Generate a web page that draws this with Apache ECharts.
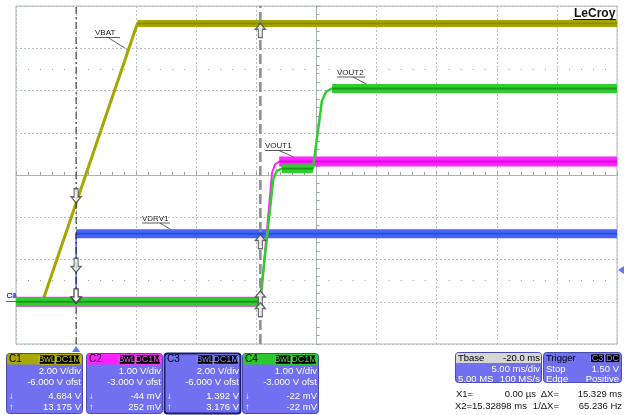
<!DOCTYPE html>
<html>
<head>
<meta charset="utf-8">
<title>LeCroy capture</title>
<script src="https://cdn.jsdelivr.net/npm/echarts@6/dist/echarts.min.js"></script>
<style>
html,body{margin:0;padding:0;background:#fff;}
#main{width:629px;height:415px;}
</style>
</head>
<body>
<div id="main"></div>
<script>
// channel setup (V/div and offset, like the scope readout)
var chNames = ['C1', 'C2', 'C3', 'C4'];
var chVdiv = [2, 1, 2, 1];
var chOfst = [-6, -3, -6, -3];

// traces: [time ms, volts]
var vbat  = [[-5, 0], [-2.8, 0], [5.1, 13.17], [45, 13.17]];                       // C1
var vout1 = [[-5, 0], [15.35, 0], [16.3, 3.05], [16.55, 3.25], [16.9, 3.32], [45, 3.32]]; // C2
var vdrv1 = [[-5, 0], [0, 0], [0, 3.22], [45, 3.22]];                              // C3
var vout2 = [[-5, 0], [15.3, 0], [16.4, 2.9], [16.7, 3.1], [17.1, 3.15], [19.7, 3.15],
             [20.45, 4.75], [20.8, 4.97], [21.3, 5.05], [45, 5.05]];               // C4

// cursors
var cursorX = [0, 15.329];
var cursorC1 = [4.684, 13.175];
var cursorC2 = [-0.044, 0.252];
var cursorC3 = [1.392, 3.176];
var cursorC4 = [-0.022, -0.022];
var trigTime = 0;
var trigLevel = 1.5;   // on C3
var dotRows = [2.5, -2.5];

// readout texts
var readTop = ['4.684 V', '-44 mV', '1.392 V', '-22 mV'];
var readBot = ['13.175 V', '252 mV', '3.176 V', '-22 mV'];

var FONT = '"Liberation Sans", Arial, sans-serif';
var FS = 9.5;
var BODY = '#7070f0';
var g = [];
function box(x, y, w, h, fill, stroke, lw, r) {
    g.push({type: 'rect', silent: true, shape: {x: x, y: y, width: w, height: h, r: r || 0},
        style: {fill: fill, stroke: stroke || null, lineWidth: lw || 0}});
}
function txt(x, y, s, color, size, align, weight) {
    g.push({type: 'text', silent: true, x: x, y: y,
        style: {text: s, fill: color, fontSize: size, fontFamily: FONT, fontWeight: weight || 'normal',
            align: align || 'left', verticalAlign: 'middle'}});
}
function seg(x1, y1, x2, y2, color, w) {
    g.push({type: 'line', silent: true, shape: {x1: x1, y1: y1, x2: x2, y2: y2},
        style: {stroke: color, lineWidth: w || 1}});
}

// trace labels with leader lines
function note(s, x, y, w, lx1, ly1, lx2, ly2) {
    txt(x, y, s, '#222', 8);
    seg(x, y + 4.5, x + w, y + 4.5, '#333', 0.8);
    seg(lx1, ly1, lx2, ly2, '#333', 0.8);
}
note('VBAT', 95, 33, 25, 108, 37.5, 128, 50);
note('VOUT1', 265, 146, 26, 279, 150.5, 305, 162);
note('VOUT2', 337, 72.5, 28, 353, 77, 375, 88.5);
note('VDRV1', 142, 218.5, 28, 160, 223, 180, 235);

// logo
txt(574, 13.5, 'LeCroy', '#111', 12, 'left', 'bold');
seg(573, 19.5, 616, 19.5, '#111', 1);

// ground marker on the left
['C1', 'C2', 'C3', 'C4'].forEach(function (c) { txt(6.5, 295.5, c, '#3a58ee', 8); });
seg(6, 301.5, 16, 301.5, '#3a58ee', 1);

// channel panels
var headCol = ['#a8a800', '#ff22ff', BODY, '#2ac82a'];
var tagCol = ['#c4c400', '#ff44ff', '#8a8aff', '#36e036'];
var panelX = [6, 86, 164, 242];
for (var i = 0; i < 4; i++) {
    var px = panelX[i];
    box(px + 0.5, 353.5, 76, 60, BODY, i === 2 ? '#1c1c70' : '#4a4ab0', i === 2 ? 2 : 1, 3);
    if (i !== 2) box(px + 1, 354, 75, 10.5, headCol[i], null, 0, [2, 2, 0, 0]);
    txt(px + 3, 359.5, chNames[i], '#000', 10);
    box(px + 33, 354.8, 16, 9.5, '#000', tagCol[i], 1, 1.5);
    txt(px + 41, 359.7, 'BwL', tagCol[i], 9, 'center');
    box(px + 49.5, 354.8, 25, 9.5, '#000', tagCol[i], 1, 1.5);
    txt(px + 62, 359.7, 'DC1M', tagCol[i], 9, 'center');
    txt(px + 75, 371, chVdiv[i].toFixed(2) + ' V/div', '#fff', FS, 'right');
    txt(px + 75, 382, chOfst[i].toFixed(3) + ' V ofst', '#fff', FS, 'right');
    txt(px + 75, 396.5, readTop[i], '#fff', FS, 'right');
    txt(px + 75, 407, readBot[i], '#fff', FS, 'right');
    txt(px + 3, 396.5, '\u2193', '#fff', FS);
    txt(px + 3, 407, '\u2191', '#fff', FS);
}

// timebase / trigger panels
box(455.5, 352.5, 86, 30, BODY, '#4a4ab0', 1, 3);
box(456, 353, 85, 10, '#d6d6d6', null, 0, [2, 2, 0, 0]);
txt(458, 358, 'Tbase', '#000', FS);
txt(540, 358, '-20.0 ms', '#000', FS, 'right');
txt(540, 369.5, '5.00 ms/div', '#fff', FS, 'right');
txt(458, 379.5, '5.00 MS', '#fff', FS);
txt(540, 379.5, '100 MS/s', '#fff', FS, 'right');

box(543.5, 352.5, 78, 30, BODY, '#4a4ab0', 1, 3);
txt(546, 358, 'Trigger', '#000', FS);
box(590.5, 353.8, 14, 9, '#000', '#8a8aff', 1, 1.5);
txt(597.5, 358.4, 'C3', '#8a8aff', 9, 'center');
box(605, 353.8, 15, 9, '#000', '#8a8aff', 1, 1.5);
txt(612.5, 358.4, 'DC', '#8a8aff', 9, 'center');
txt(546, 369.5, 'Stop', '#fff', FS);
txt(619, 369.5, '1.50 V', '#fff', FS, 'right');
txt(546, 379.5, 'Edge', '#fff', FS);
txt(619, 379.5, 'Positive', '#fff', FS, 'right');

txt(456, 394.5, 'X1=', '#111', FS);
txt(536, 394.5, '0.00 \u00b5s', '#111', FS, 'right');
txt(559, 394.5, '\u0394X=', '#111', FS, 'right');
txt(622, 394.5, '15.329 ms', '#111', FS, 'right');
txt(455, 406.5, 'X2=', '#111', FS);
txt(472, 406.5, '15.32898 ms', '#111', FS);
txt(559, 406.5, '1/\u0394X=', '#111', FS, 'right');
txt(622, 406.5, '65.236 Hz', '#111', FS, 'right');

// flat stretches of a trace, drawn as the thick noise band
function flats(data) {
    var out = [];
    for (var k = 0; k < data.length - 1; k++) {
        if (data[k][1] === data[k + 1][1] && data[k + 1][0] > data[k][0]) out.push([data[k], data[k + 1]]);
    }
    return out;
}
var series = [];
function trace(data, axis, bright, dark, bandW, lineW, z) {
    series.push({type: 'line', data: data, yAxisIndex: axis, symbol: 'none', silent: true, z: z,
        lineStyle: {color: bright, width: lineW}});
    flats(data).forEach(function (s) {
        series.push({type: 'line', data: s, yAxisIndex: axis, symbol: 'none', silent: true, z: z,
            lineStyle: {color: bright, width: bandW}});
        series.push({type: 'line', data: s, yAxisIndex: axis, symbol: 'none', silent: true, z: z,
            lineStyle: {color: dark, width: 2}});
    });
}
trace(vbat, 1, '#a6a600', '#8c8c00', 7, 3, 2);
trace(vdrv1, 3, '#4666f4', '#2c4ce4', 9, 1.5, 3);
trace(vout1, 2, '#ff26ff', '#e600e6', 10, 2, 4);
trace(vout2, 4, '#30cc30', '#169c16', 9, 2.5, 5);

// dotted half rows
dotRows.forEach(function (r) {
    series.push({type: 'line', data: [[-5, r], [45, r]], yAxisIndex: 0, symbol: 'none', silent: true, z: 1,
        lineStyle: {color: '#8f979b', width: 1, type: [1, 11.02]}});
});

// cursors
series.push({type: 'line', data: [[cursorX[0], -4], [cursorX[0], 4]], yAxisIndex: 0, symbol: 'none', silent: true, z: 6,
    lineStyle: {color: '#222', width: 1, type: [7, 3, 2, 3]}});
series.push({type: 'line', data: [[cursorX[1], -4], [cursorX[1], 4]], yAxisIndex: 0, symbol: 'none', silent: true, z: 6,
    lineStyle: {color: '#8c8c8c', width: 2.5, type: [10, 4]}});

var ARROW = 'path://M5,0L10,5.5L7,5.5L7,13L3,13L3,5.5L0,5.5Z';
[cursorC1, cursorC2, cursorC3, cursorC4].forEach(function (c, k) {
    series.push({type: 'scatter', yAxisIndex: k + 1, silent: true, clip: false, z: 7,
        symbol: ARROW, symbolSize: [10, 14],
        itemStyle: {color: '#fff', borderColor: '#444', borderWidth: 1.3},
        data: [
            {value: [cursorX[0], c[0]], symbolRotate: 180, symbolOffset: [0, -7]},
            {value: [cursorX[1], c[1]], symbolOffset: [0, 7]}
        ]});
});

// trigger markers
series.push({type: 'scatter', yAxisIndex: 0, silent: true, clip: false, z: 7,
    symbol: 'triangle', symbolSize: [8, 6], symbolOffset: [0, 5], itemStyle: {color: '#3a58ee'},
    data: [[trigTime, -4]]});
series.push({type: 'scatter', yAxisIndex: 3, silent: true, clip: false, z: 7,
    symbol: 'triangle', symbolSize: [8, 6], symbolRotate: 90, symbolOffset: [4, 0], itemStyle: {color: '#3a58ee'},
    data: [[45, trigLevel]]});

var gridColor = '#b9c1c5';
var yAxes = [{
    type: 'value', min: -4, max: 4, interval: 1, position: 'left', offset: -300.5,
    axisLabel: {show: false},
    axisLine: {show: true, onZero: false, lineStyle: {color: '#aab2b6'}},
    axisTick: {show: true, inside: true, length: 3, lineStyle: {color: '#9aa2a6'}},
    minorTick: {show: true, splitNumber: 5, length: 3, lineStyle: {color: '#9aa2a6'}},
    splitLine: {show: true, lineStyle: {color: gridColor, type: [2, 2]}}
}];
chVdiv.forEach(function (s, k) {
    var mid = -chOfst[k];
    yAxes.push({type: 'value', min: mid - 4 * s, max: mid + 4 * s, show: false});
});

var chart = echarts.init(document.getElementById('main'));
chart.setOption({
    animation: false,
    backgroundColor: '#fff',
    grid: {left: 16, top: 6, right: 12, bottom: 71, show: true, borderColor: '#b0b8bc', borderWidth: 1},
    xAxis: {
        type: 'value', min: -5, max: 45, interval: 5,
        axisLabel: {show: false},
        axisLine: {show: true, onZero: true, onZeroAxisIndex: 0, lineStyle: {color: '#aab2b6'}},
        axisTick: {show: true, inside: true, length: 3, lineStyle: {color: '#9aa2a6'}},
        minorTick: {show: true, splitNumber: 5, length: 3, lineStyle: {color: '#9aa2a6'}},
        splitLine: {show: true, lineStyle: {color: gridColor, type: [2, 2]}}
    },
    yAxis: yAxes,
    graphic: g,
    series: series
});
</script>
</body>
</html>
